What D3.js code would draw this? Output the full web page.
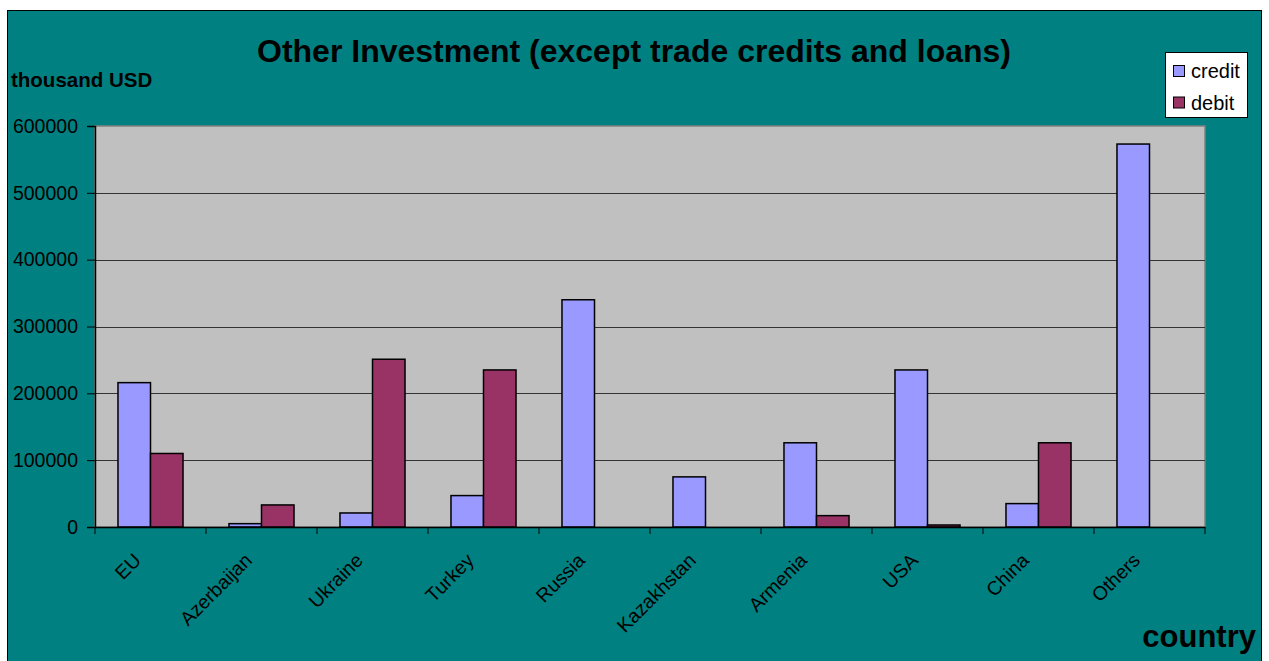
<!DOCTYPE html>
<html>
<head>
<meta charset="utf-8">
<script src="https://cdn.jsdelivr.net/npm/d3@7"></script>
<style>
  html, body { margin: 0; padding: 0; background: #ffffff; }
  svg { display: block; font-family: "Liberation Sans", Arial, sans-serif; }
</style>
</head>
<body>
<svg id="chart" width="1269" height="661"></svg>
<script>
// Other Investment by country, thousand USD
const countries = ["EU", "Azerbaijan", "Ukraine", "Turkey", "Russia", "Kazakhstan", "Armenia", "USA", "China", "Others"];
const credit = [216000, 5000, 21000, 47000, 340000, 75000, 126000, 235000, 35000, 573000];
const debit  = [110000, 33000, 251000, 235000, 0, 0, 17000, 3000, 126000, 0];
const seriesNames = ["credit", "debit"];
const seriesColors = ["#9999FF", "#993366"];
const yTicks = [0, 100000, 200000, 300000, 400000, 500000, 600000];

const svg = d3.select("#chart");

// Outer chart frame
svg.append("rect")
  .attr("x", 7.5).attr("y", 10.5)
  .attr("width", 1254).attr("height", 670)
  .attr("fill", "#008080")
  .attr("stroke", "#000").attr("stroke-width", 1);

const plot = { left: 95, right: 1205, top: 126, bottom: 527 };

const y = d3.scaleLinear().domain([0, 600000]).range([plot.bottom, plot.top]);
const x0 = d3.scaleBand().domain(countries).range([plot.left, plot.right]).padding(0);
const bw = x0.bandwidth();
const x1 = d3.scaleBand().domain(seriesNames).range([bw * 0.207, bw * 0.793]).padding(0);

// Plot area background
svg.append("rect")
  .attr("x", plot.left).attr("y", plot.top)
  .attr("width", plot.right - plot.left).attr("height", plot.bottom - plot.top)
  .attr("fill", "#C0C0C0")
  .attr("stroke", "#808080").attr("stroke-width", 1.5);

// Gridlines
svg.append("g")
  .selectAll("line")
  .data(yTicks.filter(d => d > 0 && d < 600000))
  .join("line")
  .attr("x1", plot.left).attr("x2", plot.right)
  .attr("y1", d => Math.round(y(d)) + 0.5).attr("y2", d => Math.round(y(d)) + 0.5)
  .attr("stroke", "#333").attr("stroke-width", 1.2);

// Bars
const rows = countries.map((c, i) => ({ country: c, values: [credit[i], debit[i]] }));
const groups = svg.append("g")
  .selectAll("g")
  .data(rows)
  .join("g")
  .attr("transform", d => `translate(${x0(d.country)},0)`);

groups.selectAll("rect")
  .data(d => d.values.map((v, k) => ({ key: seriesNames[k], value: v, color: seriesColors[k] })))
  .join("rect")
  .filter(d => d.value > 0)
  .attr("x", d => x1(d.key))
  .attr("y", d => y(d.value))
  .attr("width", x1.bandwidth())
  .attr("height", d => y(0) - y(d.value))
  .attr("fill", d => d.color)
  .attr("stroke", "#000").attr("stroke-width", 1.5);

// Y axis
const yAxis = d3.axisLeft(y).tickValues(yTicks).tickSize(8).tickFormat(d3.format("d")).tickPadding(9);
const gy = svg.append("g").attr("transform", `translate(${plot.left},0)`).call(yAxis);
gy.select(".domain").attr("stroke", "#000").attr("stroke-width", 1.5);
gy.selectAll(".tick line").attr("stroke", "#000");
gy.selectAll("text").attr("font-size", 19.5).attr("fill", "#000")
  .attr("font-family", "'Liberation Sans', Arial, sans-serif");

// X axis
const xAxis = d3.axisBottom(x0).tickSize(0).tickFormat("");
const gx = svg.append("g").attr("transform", `translate(0,${plot.bottom})`).call(xAxis);
gx.select(".domain").attr("stroke", "#000").attr("stroke-width", 1.5);
// Category boundary ticks
gx.selectAll("line.sep")
  .data(countries.concat(["_end"]))
  .join("line")
  .attr("class", "sep")
  .attr("x1", (d, i) => plot.left + i * bw).attr("x2", (d, i) => plot.left + i * bw)
  .attr("y1", 0).attr("y2", 7)
  .attr("stroke", "#000");

// Rotated category labels
svg.append("g")
  .selectAll("text")
  .data(countries)
  .join("text")
  .attr("transform", d => `translate(${x0(d) + bw / 2 - 18},${plot.bottom + 25}) rotate(-45)`)
  .attr("text-anchor", "end")
  .attr("dy", "0.7em")
  .attr("font-size", 19.5)
  .attr("fill", "#000")
  .text(d => d);

// Title and axis titles
svg.append("text")
  .attr("x", 634).attr("y", 62)
  .attr("text-anchor", "middle")
  .attr("font-size", 32).attr("font-weight", "bold")
  .text("Other Investment (except trade credits and loans)");

svg.append("text")
  .attr("x", 11).attr("y", 87)
  .attr("font-size", 20.5).attr("font-weight", "bold")
  .text("thousand USD");

svg.append("text")
  .attr("x", 1256).attr("y", 647)
  .attr("text-anchor", "end")
  .attr("font-size", 31).attr("font-weight", "bold")
  .text("country");

// Legend
const legend = svg.append("g");
legend.append("rect")
  .attr("x", 1165.5).attr("y", 52.5).attr("width", 82).attr("height", 65)
  .attr("fill", "#fff").attr("stroke", "#000");
const li = legend.selectAll("g.item")
  .data(seriesNames)
  .join("g")
  .attr("class", "item")
  .attr("transform", (d, i) => `translate(1173,${71 + i * 31.5})`);
li.append("rect")
  .attr("x", 0.5).attr("y", -5.5).attr("width", 11).attr("height", 11)
  .attr("fill", (d, i) => seriesColors[i])
  .attr("stroke", "#000");
li.append("text")
  .attr("x", 18).attr("y", 0).attr("dy", "0.35em")
  .attr("font-size", 20)
  .text(d => d);
</script>
</body>
</html>
